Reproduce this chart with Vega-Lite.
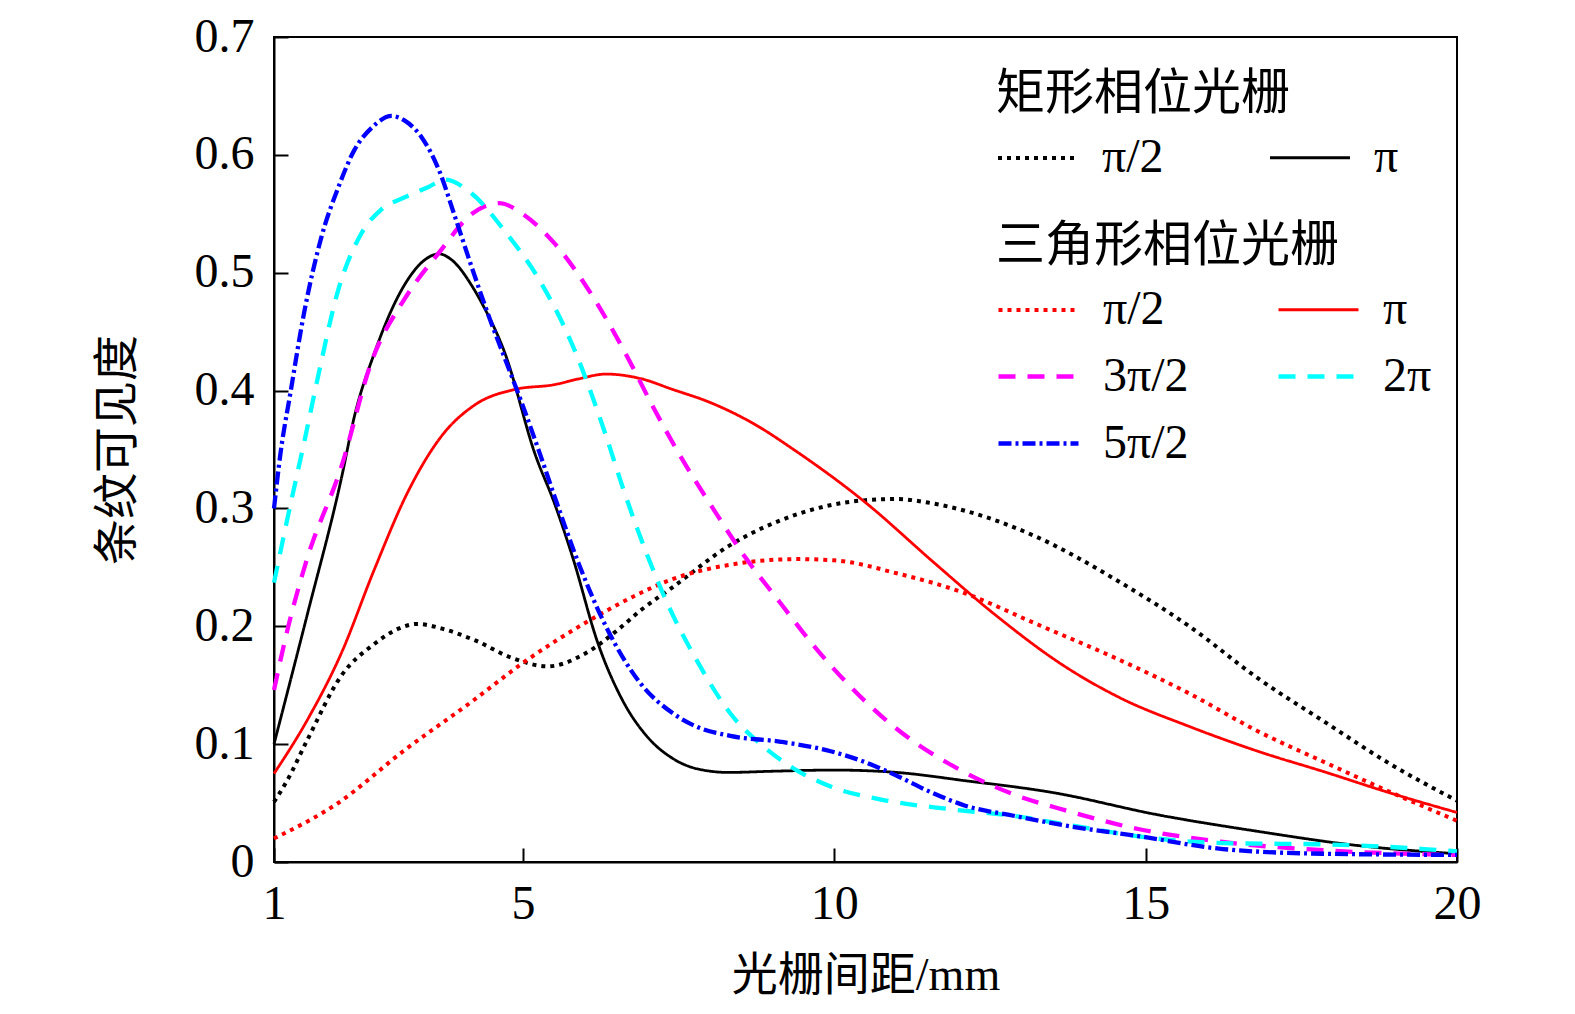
{
  "$schema": "https://vega.github.io/schema/vega-lite/v6.json",
  "width": 1183,
  "height": 825,
  "autosize": {"type": "none"},
  "padding": {"left": 274, "top": 37, "right": 118, "bottom": 152},
  "background": "white",
  "data": {
    "values": [
      {"g": "rect", "p": "π/2", "x": 1, "y": 0.051},
      {"g": "rect", "p": "π/2", "x": 1.21, "y": 0.069},
      {"g": "rect", "p": "π/2", "x": 1.53, "y": 0.103},
      {"g": "rect", "p": "π/2", "x": 2.08, "y": 0.158},
      {"g": "rect", "p": "π/2", "x": 2.61, "y": 0.185},
      {"g": "rect", "p": "π/2", "x": 3, "y": 0.198},
      {"g": "rect", "p": "π/2", "x": 3.3, "y": 0.202},
      {"g": "rect", "p": "π/2", "x": 3.7, "y": 0.198},
      {"g": "rect", "p": "π/2", "x": 4.23, "y": 0.188},
      {"g": "rect", "p": "π/2", "x": 4.83, "y": 0.173},
      {"g": "rect", "p": "π/2", "x": 5.4, "y": 0.166},
      {"g": "rect", "p": "π/2", "x": 6, "y": 0.177},
      {"g": "rect", "p": "π/2", "x": 6.5, "y": 0.196},
      {"g": "rect", "p": "π/2", "x": 6.9, "y": 0.214},
      {"g": "rect", "p": "π/2", "x": 7.4, "y": 0.233},
      {"g": "rect", "p": "π/2", "x": 8.3, "y": 0.268},
      {"g": "rect", "p": "π/2", "x": 9.4, "y": 0.295},
      {"g": "rect", "p": "π/2", "x": 10.5, "y": 0.307},
      {"g": "rect", "p": "π/2", "x": 11, "y": 0.308},
      {"g": "rect", "p": "π/2", "x": 11.5, "y": 0.305},
      {"g": "rect", "p": "π/2", "x": 12.1, "y": 0.298},
      {"g": "rect", "p": "π/2", "x": 13.2, "y": 0.277},
      {"g": "rect", "p": "π/2", "x": 14.6, "y": 0.237},
      {"g": "rect", "p": "π/2", "x": 15.7, "y": 0.2},
      {"g": "rect", "p": "π/2", "x": 16.8, "y": 0.156},
      {"g": "rect", "p": "π/2", "x": 17.9, "y": 0.118},
      {"g": "rect", "p": "π/2", "x": 18.9, "y": 0.084},
      {"g": "rect", "p": "π/2", "x": 20, "y": 0.052},

      {"g": "rect", "p": "π", "x": 1, "y": 0.1},
      {"g": "rect", "p": "π", "x": 1.53, "y": 0.209},
      {"g": "rect", "p": "π", "x": 2.08, "y": 0.325},
      {"g": "rect", "p": "π", "x": 2.3, "y": 0.38},
      {"g": "rect", "p": "π", "x": 2.6, "y": 0.43},
      {"g": "rect", "p": "π", "x": 3.1, "y": 0.49},
      {"g": "rect", "p": "π", "x": 3.4, "y": 0.51},
      {"g": "rect", "p": "π", "x": 3.65, "y": 0.516},
      {"g": "rect", "p": "π", "x": 3.85, "y": 0.511},
      {"g": "rect", "p": "π", "x": 4.2, "y": 0.487},
      {"g": "rect", "p": "π", "x": 4.35, "y": 0.473},
      {"g": "rect", "p": "π", "x": 4.7, "y": 0.433},
      {"g": "rect", "p": "π", "x": 5.2, "y": 0.345},
      {"g": "rect", "p": "π", "x": 5.5, "y": 0.305},
      {"g": "rect", "p": "π", "x": 5.8, "y": 0.258},
      {"g": "rect", "p": "π", "x": 6.2, "y": 0.186},
      {"g": "rect", "p": "π", "x": 6.6, "y": 0.137},
      {"g": "rect", "p": "π", "x": 7, "y": 0.106},
      {"g": "rect", "p": "π", "x": 7.4, "y": 0.088},
      {"g": "rect", "p": "π", "x": 7.8, "y": 0.079},
      {"g": "rect", "p": "π", "x": 8.3, "y": 0.076},
      {"g": "rect", "p": "π", "x": 9, "y": 0.077},
      {"g": "rect", "p": "π", "x": 10, "y": 0.078},
      {"g": "rect", "p": "π", "x": 11, "y": 0.076},
      {"g": "rect", "p": "π", "x": 12.1, "y": 0.069},
      {"g": "rect", "p": "π", "x": 13.5, "y": 0.059},
      {"g": "rect", "p": "π", "x": 15.2, "y": 0.04},
      {"g": "rect", "p": "π", "x": 16.8, "y": 0.026},
      {"g": "rect", "p": "π", "x": 18.4, "y": 0.014},
      {"g": "rect", "p": "π", "x": 20, "y": 0.007},

      {"g": "tri", "p": "π/2", "x": 1, "y": 0.02},
      {"g": "tri", "p": "π/2", "x": 2, "y": 0.049},
      {"g": "tri", "p": "π/2", "x": 3.1, "y": 0.095},
      {"g": "tri", "p": "π/2", "x": 4.2, "y": 0.137},
      {"g": "tri", "p": "π/2", "x": 5, "y": 0.169},
      {"g": "tri", "p": "π/2", "x": 6.1, "y": 0.206},
      {"g": "tri", "p": "π/2", "x": 6.8, "y": 0.226},
      {"g": "tri", "p": "π/2", "x": 7.4, "y": 0.24},
      {"g": "tri", "p": "π/2", "x": 8.3, "y": 0.252},
      {"g": "tri", "p": "π/2", "x": 9.4, "y": 0.257},
      {"g": "tri", "p": "π/2", "x": 10, "y": 0.256},
      {"g": "tri", "p": "π/2", "x": 11, "y": 0.245},
      {"g": "tri", "p": "π/2", "x": 12.1, "y": 0.228},
      {"g": "tri", "p": "π/2", "x": 13.2, "y": 0.203},
      {"g": "tri", "p": "π/2", "x": 14.6, "y": 0.171},
      {"g": "tri", "p": "π/2", "x": 15.7, "y": 0.143},
      {"g": "tri", "p": "π/2", "x": 16.8, "y": 0.111},
      {"g": "tri", "p": "π/2", "x": 17.9, "y": 0.084},
      {"g": "tri", "p": "π/2", "x": 18.9, "y": 0.06},
      {"g": "tri", "p": "π/2", "x": 20, "y": 0.035},

      {"g": "tri", "p": "π", "x": 1, "y": 0.075},
      {"g": "tri", "p": "π", "x": 1.53, "y": 0.12},
      {"g": "tri", "p": "π", "x": 2.08, "y": 0.177},
      {"g": "tri", "p": "π", "x": 2.61, "y": 0.248},
      {"g": "tri", "p": "π", "x": 3.15, "y": 0.314},
      {"g": "tri", "p": "π", "x": 3.7, "y": 0.362},
      {"g": "tri", "p": "π", "x": 4.23, "y": 0.388},
      {"g": "tri", "p": "π", "x": 4.87, "y": 0.401},
      {"g": "tri", "p": "π", "x": 5.5, "y": 0.405},
      {"g": "tri", "p": "π", "x": 5.9, "y": 0.41},
      {"g": "tri", "p": "π", "x": 6.33, "y": 0.414},
      {"g": "tri", "p": "π", "x": 6.9, "y": 0.41},
      {"g": "tri", "p": "π", "x": 7.4, "y": 0.401},
      {"g": "tri", "p": "π", "x": 8, "y": 0.39},
      {"g": "tri", "p": "π", "x": 8.7, "y": 0.372},
      {"g": "tri", "p": "π", "x": 9.4, "y": 0.348},
      {"g": "tri", "p": "π", "x": 10.5, "y": 0.305},
      {"g": "tri", "p": "π", "x": 11.6, "y": 0.254},
      {"g": "tri", "p": "π", "x": 12.6, "y": 0.209},
      {"g": "tri", "p": "π", "x": 13.7, "y": 0.166},
      {"g": "tri", "p": "π", "x": 14.6, "y": 0.139},
      {"g": "tri", "p": "π", "x": 15.7, "y": 0.115},
      {"g": "tri", "p": "π", "x": 16.8, "y": 0.094},
      {"g": "tri", "p": "π", "x": 17.9, "y": 0.076},
      {"g": "tri", "p": "π", "x": 18.9, "y": 0.059},
      {"g": "tri", "p": "π", "x": 20, "y": 0.042},

      {"g": "tri", "p": "3π/2", "x": 1, "y": 0.146},
      {"g": "tri", "p": "3π/2", "x": 1.23, "y": 0.2},
      {"g": "tri", "p": "3π/2", "x": 1.53, "y": 0.257},
      {"g": "tri", "p": "3π/2", "x": 2.08, "y": 0.335},
      {"g": "tri", "p": "3π/2", "x": 2.57, "y": 0.425},
      {"g": "tri", "p": "3π/2", "x": 3.1, "y": 0.478},
      {"g": "tri", "p": "3π/2", "x": 3.65, "y": 0.517},
      {"g": "tri", "p": "3π/2", "x": 4.18, "y": 0.55},
      {"g": "tri", "p": "3π/2", "x": 4.62, "y": 0.559},
      {"g": "tri", "p": "3π/2", "x": 4.99, "y": 0.55},
      {"g": "tri", "p": "3π/2", "x": 5.52, "y": 0.524},
      {"g": "tri", "p": "3π/2", "x": 6.07, "y": 0.484},
      {"g": "tri", "p": "3π/2", "x": 6.6, "y": 0.436},
      {"g": "tri", "p": "3π/2", "x": 7.13, "y": 0.382},
      {"g": "tri", "p": "3π/2", "x": 7.52, "y": 0.345},
      {"g": "tri", "p": "3π/2", "x": 8.05, "y": 0.3},
      {"g": "tri", "p": "3π/2", "x": 8.59, "y": 0.257},
      {"g": "tri", "p": "3π/2", "x": 9.13, "y": 0.22},
      {"g": "tri", "p": "3π/2", "x": 9.66, "y": 0.184},
      {"g": "tri", "p": "3π/2", "x": 10.2, "y": 0.152},
      {"g": "tri", "p": "3π/2", "x": 10.75, "y": 0.124},
      {"g": "tri", "p": "3π/2", "x": 11.28, "y": 0.102},
      {"g": "tri", "p": "3π/2", "x": 11.82, "y": 0.084},
      {"g": "tri", "p": "3π/2", "x": 12.36, "y": 0.069},
      {"g": "tri", "p": "3π/2", "x": 12.9, "y": 0.057},
      {"g": "tri", "p": "3π/2", "x": 13.7, "y": 0.044},
      {"g": "tri", "p": "3π/2", "x": 14.88, "y": 0.028},
      {"g": "tri", "p": "3π/2", "x": 16.24, "y": 0.017},
      {"g": "tri", "p": "3π/2", "x": 17.85, "y": 0.01},
      {"g": "tri", "p": "3π/2", "x": 20, "y": 0.006},

      {"g": "tri", "p": "2π", "x": 1, "y": 0.237},
      {"g": "tri", "p": "2π", "x": 1.21, "y": 0.29},
      {"g": "tri", "p": "2π", "x": 1.5, "y": 0.36},
      {"g": "tri", "p": "2π", "x": 1.7, "y": 0.41},
      {"g": "tri", "p": "2π", "x": 2.03, "y": 0.485},
      {"g": "tri", "p": "2π", "x": 2.4, "y": 0.533},
      {"g": "tri", "p": "2π", "x": 2.73, "y": 0.554},
      {"g": "tri", "p": "2π", "x": 3.1, "y": 0.564},
      {"g": "tri", "p": "2π", "x": 3.49, "y": 0.573},
      {"g": "tri", "p": "2π", "x": 3.74, "y": 0.579},
      {"g": "tri", "p": "2π", "x": 4.18, "y": 0.567},
      {"g": "tri", "p": "2π", "x": 4.71, "y": 0.535},
      {"g": "tri", "p": "2π", "x": 5.26, "y": 0.494},
      {"g": "tri", "p": "2π", "x": 5.79, "y": 0.439},
      {"g": "tri", "p": "2π", "x": 6.33, "y": 0.362},
      {"g": "tri", "p": "2π", "x": 6.6, "y": 0.318},
      {"g": "tri", "p": "2π", "x": 7.41, "y": 0.209},
      {"g": "tri", "p": "2π", "x": 7.78, "y": 0.172},
      {"g": "tri", "p": "2π", "x": 8.33, "y": 0.126},
      {"g": "tri", "p": "2π", "x": 8.86, "y": 0.098},
      {"g": "tri", "p": "2π", "x": 9.39, "y": 0.078},
      {"g": "tri", "p": "2π", "x": 9.94, "y": 0.064},
      {"g": "tri", "p": "2π", "x": 10.75, "y": 0.053},
      {"g": "tri", "p": "2π", "x": 11.82, "y": 0.045},
      {"g": "tri", "p": "2π", "x": 12.9, "y": 0.039},
      {"g": "tri", "p": "2π", "x": 13.7, "y": 0.032},
      {"g": "tri", "p": "2π", "x": 15.16, "y": 0.02},
      {"g": "tri", "p": "2π", "x": 16.24, "y": 0.016},
      {"g": "tri", "p": "2π", "x": 17.85, "y": 0.015},
      {"g": "tri", "p": "2π", "x": 19.47, "y": 0.011},
      {"g": "tri", "p": "2π", "x": 20, "y": 0.009},

      {"g": "tri", "p": "5π/2", "x": 1, "y": 0.3},
      {"g": "tri", "p": "5π/2", "x": 1.1, "y": 0.345},
      {"g": "tri", "p": "5π/2", "x": 1.27, "y": 0.4},
      {"g": "tri", "p": "5π/2", "x": 1.48, "y": 0.465},
      {"g": "tri", "p": "5π/2", "x": 1.76, "y": 0.53},
      {"g": "tri", "p": "5π/2", "x": 2.03, "y": 0.572},
      {"g": "tri", "p": "5π/2", "x": 2.29, "y": 0.604},
      {"g": "tri", "p": "5π/2", "x": 2.57, "y": 0.623},
      {"g": "tri", "p": "5π/2", "x": 2.89, "y": 0.633},
      {"g": "tri", "p": "5π/2", "x": 3.1, "y": 0.629},
      {"g": "tri", "p": "5π/2", "x": 3.37, "y": 0.615},
      {"g": "tri", "p": "5π/2", "x": 3.65, "y": 0.587},
      {"g": "tri", "p": "5π/2", "x": 3.91, "y": 0.547},
      {"g": "tri", "p": "5π/2", "x": 4.18, "y": 0.504},
      {"g": "tri", "p": "5π/2", "x": 4.45, "y": 0.463},
      {"g": "tri", "p": "5π/2", "x": 4.71, "y": 0.427},
      {"g": "tri", "p": "5π/2", "x": 4.99, "y": 0.388},
      {"g": "tri", "p": "5π/2", "x": 5.26, "y": 0.348},
      {"g": "tri", "p": "5π/2", "x": 5.52, "y": 0.308},
      {"g": "tri", "p": "5π/2", "x": 5.91, "y": 0.251},
      {"g": "tri", "p": "5π/2", "x": 6.33, "y": 0.2},
      {"g": "tri", "p": "5π/2", "x": 6.88, "y": 0.152},
      {"g": "tri", "p": "5π/2", "x": 7.41, "y": 0.126},
      {"g": "tri", "p": "5π/2", "x": 7.78, "y": 0.115},
      {"g": "tri", "p": "5π/2", "x": 8.33, "y": 0.107},
      {"g": "tri", "p": "5π/2", "x": 9.14, "y": 0.102},
      {"g": "tri", "p": "5π/2", "x": 9.94, "y": 0.094},
      {"g": "tri", "p": "5π/2", "x": 10.48, "y": 0.085},
      {"g": "tri", "p": "5π/2", "x": 11.01, "y": 0.073},
      {"g": "tri", "p": "5π/2", "x": 11.56, "y": 0.059},
      {"g": "tri", "p": "5π/2", "x": 12.09, "y": 0.048},
      {"g": "tri", "p": "5π/2", "x": 12.9, "y": 0.039},
      {"g": "tri", "p": "5π/2", "x": 13.7, "y": 0.031},
      {"g": "tri", "p": "5π/2", "x": 14.88, "y": 0.022},
      {"g": "tri", "p": "5π/2", "x": 16.24, "y": 0.011},
      {"g": "tri", "p": "5π/2", "x": 17.85, "y": 0.007},
      {"g": "tri", "p": "5π/2", "x": 20, "y": 0.006}
    ]
  },
  "encoding": {
    "x": {
      "field": "x",
      "type": "quantitative",
      "scale": {"domain": [1, 20], "nice": false, "zero": false},
      "axis": {"values": [1, 5, 10, 15, 20], "title": "光栅间距/mm", "labelFlush": false, "labelPadding": 32, "titlePadding": 25}
    },
    "y": {
      "field": "y",
      "type": "quantitative",
      "scale": {"domain": [0, 0.7], "nice": false},
      "axis": {"values": [0, 0.1, 0.2, 0.3, 0.4, 0.5, 0.6, 0.7], "format": "~g", "title": "条纹可见度", "labelFlush": false, "labelPadding": 34, "titlePadding": 53}
    }
  },
  "layer": [
    {
      "transform": [{"filter": "datum.g == 'rect'"}],
      "mark": {"type": "line", "interpolate": "monotone", "strokeCap": "butt"},
      "encoding": {
        "color": {
          "field": "p",
          "type": "nominal",
          "scale": {"domain": ["π/2", "π"], "range": ["#000000", "#000000"]},
          "legend": {"title": "矩形相位光栅", "orient": "none", "legendX": 722, "legendY": 33, "columns": 2, "direction": "horizontal", "columnPadding": 100}
        },
        "strokeDash": {
          "field": "p",
          "type": "nominal",
          "scale": {"domain": ["π/2", "π"], "range": [[4, 5], [1, 0]]},
          "legend": {"title": "矩形相位光栅", "orient": "none", "legendX": 722, "legendY": 33, "columns": 2, "direction": "horizontal", "columnPadding": 100}
        },
        "strokeWidth": {
          "field": "p",
          "type": "nominal",
          "scale": {"type": "ordinal", "domain": ["π/2", "π"], "range": [4, 2.8]},
          "legend": null
        }
      }
    },
    {
      "transform": [{"filter": "datum.g == 'tri'"}],
      "mark": {"type": "line", "interpolate": "monotone", "strokeCap": "butt"},
      "encoding": {
        "color": {
          "field": "p",
          "type": "nominal",
          "scale": {"domain": ["π/2", "π", "3π/2", "2π", "5π/2"], "range": ["#ff0000", "#ff0000", "#ff00ff", "#00ffff", "#0000ff"]},
          "legend": {"title": "三角形相位光栅", "orient": "none", "legendX": 722, "legendY": 185, "columns": 2, "direction": "horizontal", "columnPadding": 80, "rowPadding": -18}
        },
        "strokeDash": {
          "field": "p",
          "type": "nominal",
          "scale": {"domain": ["π/2", "π", "3π/2", "2π", "5π/2"], "range": [[4, 5], [1, 0], [17, 12], [17, 12], [13, 4, 3, 4]]},
          "legend": {"title": "三角形相位光栅", "orient": "none", "legendX": 722, "legendY": 185, "columns": 2, "direction": "horizontal", "columnPadding": 80, "rowPadding": -18}
        },
        "strokeWidth": {
          "field": "p",
          "type": "nominal",
          "scale": {"type": "ordinal", "domain": ["π/2", "π", "3π/2", "2π", "5π/2"], "range": [4, 2.8, 4.3, 4.3, 4.3]},
          "legend": null
        }
      }
    }
  ],
  "resolve": {
    "scale": {"color": "independent", "strokeDash": "independent", "strokeWidth": "independent"}
  },
  "config": {
    "font": "Liberation Serif, Noto Sans CJK SC",
    "view": {"stroke": "#000000", "strokeWidth": 2},
    "axis": {
      "grid": false,
      "domainColor": "#000000",
      "domainWidth": 2,
      "tickColor": "#000000",
      "tickWidth": 2,
      "tickSize": -14,
      "labelFont": "Liberation Serif, Noto Sans CJK SC",
      "labelFontSize": 48,
      "labelColor": "#000000",
      "titleFont": "Liberation Serif, Noto Sans CJK SC",
      "titleFontSize": 46,
      "titleFontWeight": "normal",
      "titleColor": "#000000"
    },
    "legend": {
      "symbolType": "stroke",
      "symbolSize": 6400,
      "symbolStrokeWidth": 3.5,
      "labelFont": "Liberation Serif, Noto Sans CJK SC",
      "labelFontSize": 48,
      "labelColor": "#000000",
      "labelOffset": 22,
      "titleFont": "Liberation Serif, Noto Sans CJK SC",
      "titleFontSize": 49,
      "titleFontWeight": "normal",
      "titleColor": "#000000",
      "titlePadding": -3,
      "rowPadding": -11,
      "padding": 0,
      "titleLimit": 600,
      "labelLimit": 300
    }
  }
}
